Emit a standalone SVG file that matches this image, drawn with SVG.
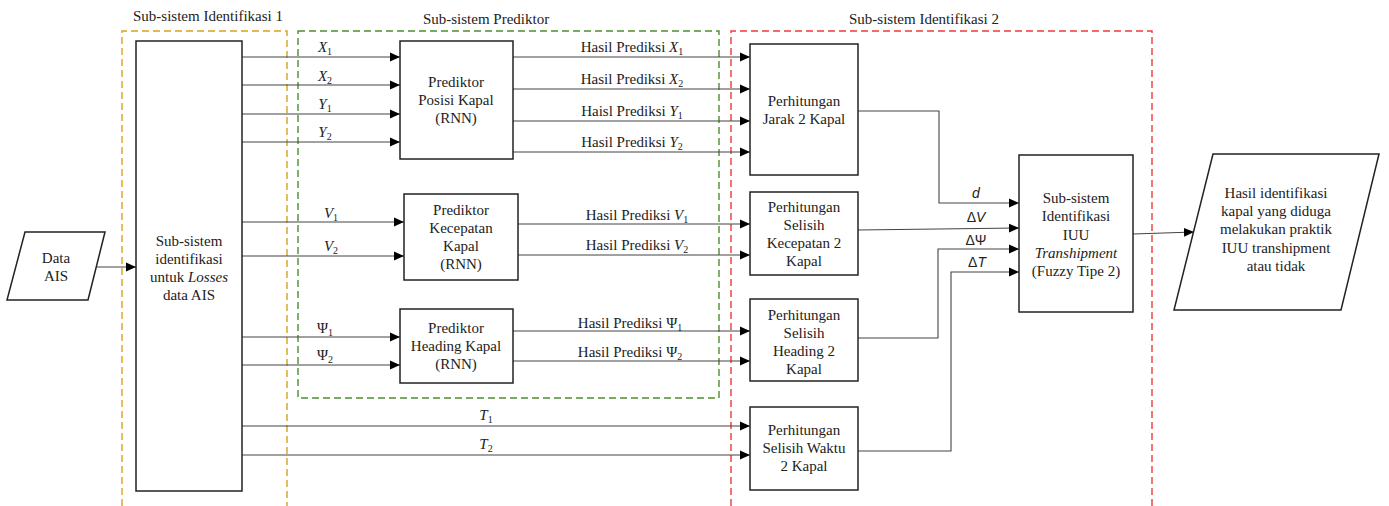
<svg xmlns="http://www.w3.org/2000/svg" width="1389" height="506" viewBox="0 0 1389 506">
  <defs>
    <marker id="arr" viewBox="0 0 10 10" refX="10" refY="5" markerWidth="10" markerHeight="10" markerUnits="userSpaceOnUse" orient="auto">
      <path d="M0,0.5 L10,5 L0,9.5 Z" fill="#000"/>
    </marker>
    <style>
      text { font-family: "Liberation Serif", "Times New Roman", serif; font-size: 15px; fill: #222; }
      .c { text-anchor: middle; }
      .it { font-style: italic; }
      .sub { font-size: 10px; }
      .sym { font-family: "Liberation Sans", Arial, sans-serif; font-size: 14px; }
      .box { fill: #fff; stroke: #222; stroke-width: 1.5; }
      .la { fill: none; stroke: #444; stroke-width: 1.1; marker-end: url(#arr); }
      .grp { fill: none; stroke-width: 1.4; stroke-dasharray: 7 4; }
    </style>
  </defs>

  <!-- subsystem frames -->
  <g id="frames">
    <path class="grp" stroke="#D9A21B" d="M122,506 V31 H287 V506"/>
    <rect class="grp" stroke="#4E8F2E" x="298" y="31" width="421" height="367"/>
    <path class="grp" stroke="#F03A3A" d="M731,506 V31 H1152 V506"/>
    <text class="c" x="208" y="21">Sub-sistem Identifikasi 1</text>
    <text class="c" x="486" y="24">Sub-sistem Prediktor</text>
    <text class="c" x="924" y="24">Sub-sistem Identifikasi 2</text>
  </g>

  <!-- connectors -->
  <g id="connectors">
    <line class="la" x1="97" y1="267" x2="136" y2="267"/>
    <!-- position inputs -->
    <line class="la" x1="242" y1="57" x2="400" y2="57"/>
    <line class="la" x1="242" y1="85" x2="400" y2="85"/>
    <line class="la" x1="242" y1="114" x2="400" y2="114"/>
    <line class="la" x1="242" y1="142" x2="400" y2="142"/>
    <!-- speed inputs -->
    <line class="la" x1="242" y1="222" x2="404" y2="222"/>
    <line class="la" x1="242" y1="256" x2="404" y2="256"/>
    <!-- heading inputs -->
    <line class="la" x1="242" y1="337" x2="400" y2="337"/>
    <line class="la" x1="242" y1="365" x2="400" y2="365"/>
    <!-- time inputs -->
    <line class="la" x1="242" y1="426" x2="750" y2="426"/>
    <line class="la" x1="242" y1="455" x2="750" y2="455"/>
    <!-- predictor outputs -->
    <line class="la" x1="513" y1="57" x2="750" y2="57"/>
    <line class="la" x1="513" y1="89" x2="750" y2="89"/>
    <line class="la" x1="513" y1="121" x2="750" y2="121"/>
    <line class="la" x1="513" y1="152" x2="750" y2="152"/>
    <line class="la" x1="518" y1="224" x2="750" y2="224"/>
    <line class="la" x1="518" y1="255" x2="750" y2="255"/>
    <line class="la" x1="513" y1="331" x2="750" y2="331"/>
    <line class="la" x1="513" y1="361" x2="750" y2="361"/>
    <!-- differences into fuzzy block -->
    <path class="la" d="M858,111 H939 V203 H1019"/>
    <line class="la" x1="858" y1="230" x2="1019" y2="228"/>
    <path class="la" d="M858,338 H938 V249 H1019"/>
    <path class="la" d="M858,451 H951 V272 H1019"/>
    <!-- result -->
    <line class="la" x1="1133" y1="234" x2="1194" y2="232"/>

    <!-- labels -->
    <text class="c" x="325" y="52"><tspan class="it">X</tspan><tspan class="sub" dy="3">1</tspan></text>
    <text class="c" x="325" y="81"><tspan class="it">X</tspan><tspan class="sub" dy="3">2</tspan></text>
    <text class="c" x="325" y="109"><tspan class="it">Y</tspan><tspan class="sub" dy="3">1</tspan></text>
    <text class="c" x="325" y="137"><tspan class="it">Y</tspan><tspan class="sub" dy="3">2</tspan></text>
    <text class="c" x="331" y="218"><tspan class="it">V</tspan><tspan class="sub" dy="3">1</tspan></text>
    <text class="c" x="331" y="251"><tspan class="it">V</tspan><tspan class="sub" dy="3">2</tspan></text>
    <text class="c" x="325" y="333">Ψ<tspan class="sub" dy="3">1</tspan></text>
    <text class="c" x="325" y="360">Ψ<tspan class="sub" dy="3">2</tspan></text>
    <text class="c" x="486" y="420"><tspan class="it">T</tspan><tspan class="sub" dy="3">1</tspan></text>
    <text class="c" x="486" y="449"><tspan class="it">T</tspan><tspan class="sub" dy="3">2</tspan></text>

    <text class="c" x="632" y="52">Hasil Prediksi <tspan class="it">X</tspan><tspan class="sub" dy="3">1</tspan></text>
    <text class="c" x="632" y="84">Hasil Prediksi <tspan class="it">X</tspan><tspan class="sub" dy="3">2</tspan></text>
    <text class="c" x="632" y="116">Haisl Prediksi <tspan class="it">Y</tspan><tspan class="sub" dy="3">1</tspan></text>
    <text class="c" x="632" y="147">Hasil Prediksi <tspan class="it">Y</tspan><tspan class="sub" dy="3">2</tspan></text>
    <text class="c" x="637" y="220">Hasil Prediksi <tspan class="it">V</tspan><tspan class="sub" dy="3">1</tspan></text>
    <text class="c" x="637" y="250">Hasil Prediksi <tspan class="it">V</tspan><tspan class="sub" dy="3">2</tspan></text>
    <text class="c" x="630" y="328">Hasil Prediksi Ψ<tspan class="sub" dy="3">1</tspan></text>
    <text class="c" x="630" y="357">Hasil Prediksi Ψ<tspan class="sub" dy="3">2</tspan></text>

    <text class="sym c it" x="976" y="198">d</text>
    <text class="sym c" x="976" y="222">Δ<tspan class="it">V</tspan></text>
    <text class="sym c" x="976" y="245">ΔΨ</text>
    <text class="sym c" x="977" y="267">Δ<tspan class="it">T</tspan></text>
  </g>

  <g id="data-ais">
    <polygon class="box" points="25,232 105,232 88,300 7,300"/>
    <text class="c" x="56" y="263">Data</text>
    <text class="c" x="56" y="281">AIS</text>
  </g>

  <g id="losses">
    <rect class="box" x="136" y="41" width="106" height="450"/>
    <text class="c" x="189" y="246">Sub-sistem</text>
    <text class="c" x="189" y="264">identifikasi</text>
    <text class="c" x="189" y="282">untuk <tspan class="it">Losses</tspan></text>
    <text class="c" x="189" y="300">data AIS</text>
  </g>

  <g id="pred-posisi">
    <rect class="box" x="400" y="41" width="113" height="118"/>
    <text class="c" x="456" y="87">Prediktor</text>
    <text class="c" x="456" y="105">Posisi Kapal</text>
    <text class="c" x="456" y="123">(RNN)</text>
  </g>

  <g id="pred-kecepatan">
    <rect class="box" x="404" y="194" width="114" height="86"/>
    <text class="c" x="461" y="215">Prediktor</text>
    <text class="c" x="461" y="233">Kecepatan</text>
    <text class="c" x="461" y="251">Kapal</text>
    <text class="c" x="461" y="269">(RNN)</text>
  </g>

  <g id="pred-heading">
    <rect class="box" x="400" y="309" width="113" height="74"/>
    <text class="c" x="456" y="333">Prediktor</text>
    <text class="c" x="456" y="351">Heading Kapal</text>
    <text class="c" x="456" y="369">(RNN)</text>
  </g>

  <g id="hitung-jarak">
    <rect class="box" x="750" y="44" width="108" height="131"/>
    <text class="c" x="804" y="106">Perhitungan</text>
    <text class="c" x="804" y="124">Jarak 2 Kapal</text>
  </g>

  <g id="hitung-kecepatan">
    <rect class="box" x="750" y="192" width="108" height="83"/>
    <text class="c" x="804" y="212">Perhitungan</text>
    <text class="c" x="804" y="230">Selisih</text>
    <text class="c" x="804" y="248">Kecepatan 2</text>
    <text class="c" x="804" y="266">Kapal</text>
  </g>

  <g id="hitung-heading">
    <rect class="box" x="750" y="299" width="108" height="82"/>
    <text class="c" x="804" y="320">Perhitungan</text>
    <text class="c" x="804" y="338">Selisih</text>
    <text class="c" x="804" y="356">Heading 2</text>
    <text class="c" x="804" y="374">Kapal</text>
  </g>

  <g id="hitung-waktu">
    <rect class="box" x="750" y="407" width="108" height="83"/>
    <text class="c" x="804" y="435">Perhitungan</text>
    <text class="c" x="804" y="453">Selisih Waktu</text>
    <text class="c" x="804" y="471">2 Kapal</text>
  </g>

  <g id="fuzzy">
    <rect class="box" x="1019" y="155" width="114" height="157"/>
    <text class="c" x="1076" y="203">Sub-sistem</text>
    <text class="c" x="1076" y="221">Identifikasi</text>
    <text class="c" x="1076" y="240">IUU</text>
    <text class="c it" x="1076" y="258">Transhipment</text>
    <text class="c" x="1076" y="276">(Fuzzy Tipe 2)</text>
  </g>

  <g id="hasil">
    <polygon class="box" points="1213,154 1379,154 1341,310 1174,310"/>
    <text class="c" x="1276" y="198">Hasil identifikasi</text>
    <text class="c" x="1276" y="216">kapal yang diduga</text>
    <text class="c" x="1276" y="234">melakukan praktik</text>
    <text class="c" x="1276" y="253">IUU transhipment</text>
    <text class="c" x="1276" y="271">atau tidak</text>
  </g>
</svg>
